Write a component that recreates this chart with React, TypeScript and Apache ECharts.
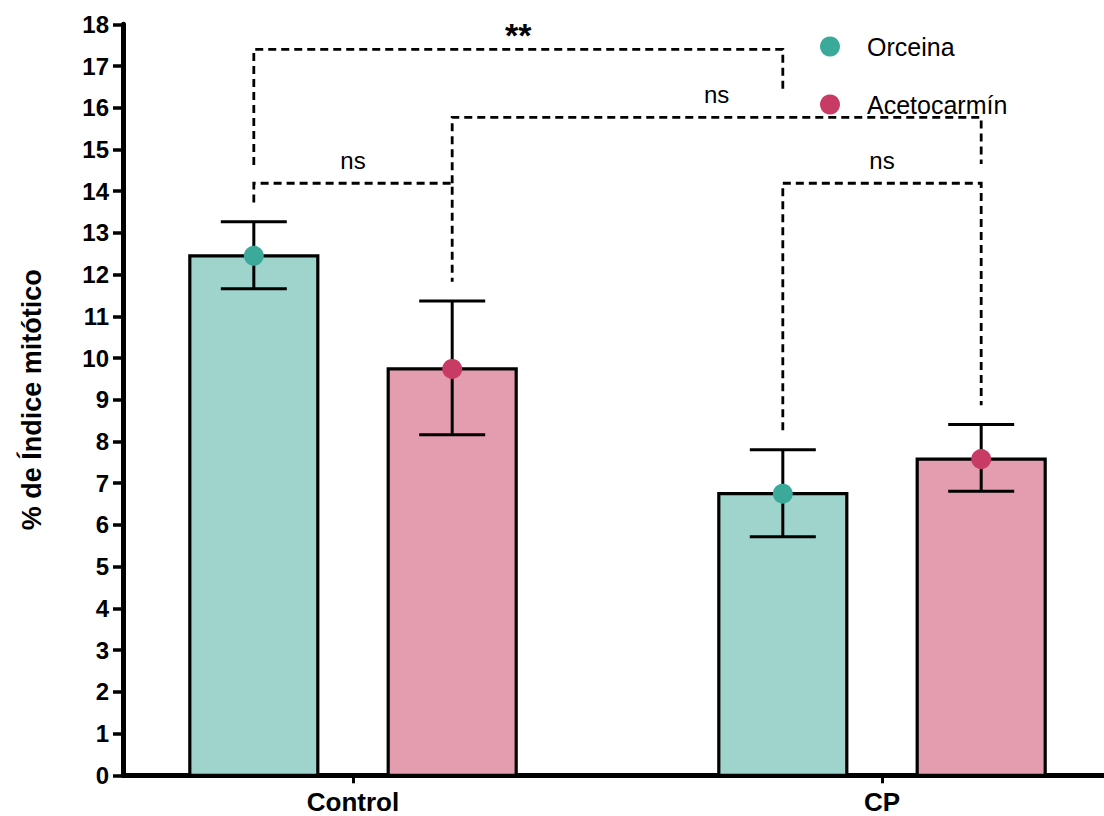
import React, { useEffect, useRef } from "react";
import * as echarts from "echarts";

// ---- data ----
const categories = ["Control", "CP"];
const groupPos = [1, 2];
const seriesNames = ["Orceina", "Acetocarmín"];
const orceinaMean = [12.45, 6.75];
const orceinaLow = [11.66, 5.72];
const orceinaHigh = [13.27, 7.8];
const acetoMean = [9.74, 7.58];
const acetoLow = [8.16, 6.81];
const acetoHigh = [11.37, 8.41];

// significance brackets (bar index: 0 Control-Orc, 1 Control-Ace, 2 CP-Orc, 3 CP-Ace)
const bracketLabels = ["**", "ns", "ns", "ns"];
const bracketLeftBar = [0, 0, 1, 2];
const bracketRightBar = [2, 1, 3, 3];
const bracketTop = [17.4, 14.19, 15.77, 14.19];
const bracketLeftEnd = [14.63, 13.73, 14.19, 8.27];
const bracketRightEnd = [16.43, 11.83, 14.65, 8.87];

// ---- styling ----
const FONT = "'Liberation Sans', Arial, Helvetica, sans-serif";
const BAR_FILL = ["#9ED4CB", "#E49CAF"];
const DOT = ["#3BAA9A", "#C83B64"];
const BAR_OFFSET = 0.1875;

export default function App() {
  const ref = useRef<HTMLDivElement>(null);

  useEffect(() => {
    document.body.style.margin = "0";
    if (!ref.current) return;
    const chart = echarts.init(ref.current, undefined, { renderer: "svg" });

    const barX = [
      groupPos[0] - BAR_OFFSET,
      groupPos[0] + BAR_OFFSET,
      groupPos[1] - BAR_OFFSET,
      groupPos[1] + BAR_OFFSET,
    ];

    const orcData = groupPos.map((g, i) => [g - BAR_OFFSET, orceinaMean[i], orceinaLow[i], orceinaHigh[i]]);
    const aceData = groupPos.map((g, i) => [g + BAR_OFFSET, acetoMean[i], acetoLow[i], acetoHigh[i]]);

    const renderBar = (color: string) => (params: any, api: any) => {
      const x = api.value(0);
      const m = api.value(1);
      const lo = api.value(2);
      const hi = api.value(3);
      const [cx, cy] = api.coord([x, m]);
      const y0 = api.coord([x, 0])[1];
      const yLo = api.coord([x, lo])[1];
      const yHi = api.coord([x, hi])[1];
      const ls = { stroke: "#000", lineWidth: 3 };
      return {
        type: "group",
        children: [
          { type: "rect", shape: { x: cx - 64, y: cy, width: 128, height: y0 - cy }, style: { fill: color, stroke: "#000", lineWidth: 3.2 } },
          { type: "line", shape: { x1: cx, y1: yHi, x2: cx, y2: yLo }, style: ls },
          { type: "line", shape: { x1: cx - 33, y1: yHi, x2: cx + 33, y2: yHi }, style: ls },
          { type: "line", shape: { x1: cx - 33, y1: yLo, x2: cx + 33, y2: yLo }, style: ls },
        ],
      };
    };

    const bracketData = bracketLabels.map((_, i) => [
      barX[bracketLeftBar[i]],
      barX[bracketRightBar[i]],
      bracketTop[i],
      bracketLeftEnd[i],
      bracketRightEnd[i],
    ]);

    const renderBracket = (params: any, api: any) => {
      const xl = api.value(0);
      const xr = api.value(1);
      const top = api.value(2);
      const le = api.value(3);
      const re = api.value(4);
      const p1 = api.coord([xl, le]);
      const p2 = api.coord([xl, top]);
      const p3 = api.coord([xr, top]);
      const p4 = api.coord([xr, re]);
      const label = bracketLabels[params.dataIndex];
      const isStar = label === "**";
      return {
        type: "group",
        children: [
          {
            type: "polyline",
            shape: { points: [p1, p2, p3, p4] },
            style: { stroke: "#000", lineWidth: 2.8, lineDash: [8, 5], fill: "none" },
          },
          {
            type: "text",
            x: (p2[0] + p3[0]) / 2,
            y: p2[1] + (isStar ? -14 : -23),
            style: {
              text: label,
              fill: "#000",
              fontSize: isStar ? 34 : 24,
              fontWeight: isStar ? "bold" : "normal",
              fontFamily: FONT,
              align: "center",
              verticalAlign: "middle",
            },
          },
        ],
      };
    };

    chart.setOption({
      animation: false,
      backgroundColor: "#fff",
      grid: { left: 123, right: 0, top: 24.3, bottom: 40.7, containLabel: false },
      legend: {
        data: seriesNames,
        orient: "vertical",
        left: 815,
        top: 29,
        icon: "circle",
        itemWidth: 64,
        itemHeight: 20,
        itemGap: 33,
        textStyle: { fontSize: 25, color: "#000", fontFamily: FONT },
      },
      xAxis: {
        type: "value",
        min: 1 - 230 / 529,
        max: 2 + 222 / 529,
        splitLine: { show: false },
        axisLine: { show: true, onZero: false, lineStyle: { color: "#000", width: 5 } },
        axisTick: { show: true, customValues: groupPos, length: 8, lineStyle: { color: "#000", width: 3 } },
        axisLabel: {
          show: true,
          customValues: groupPos,
          formatter: (v: number) => categories[groupPos.indexOf(Math.round(v))] ?? "",
          fontSize: 26,
          fontWeight: "bold",
          color: "#000",
          fontFamily: FONT,
          margin: 14,
        },
      },
      yAxis: {
        type: "value",
        min: 0,
        max: 18,
        interval: 1,
        name: "% de Índice mitótico",
        nameLocation: "middle",
        nameRotate: 90,
        nameGap: 78,
        nameTextStyle: { fontSize: 27, fontWeight: "bold", color: "#000", fontFamily: FONT },
        splitLine: { show: false },
        axisLine: { show: true, lineStyle: { color: "#000", width: 5 } },
        axisTick: { show: true, length: 10, lineStyle: { color: "#000", width: 3.5 } },
        axisLabel: { fontSize: 24, fontWeight: "bold", color: "#000", fontFamily: FONT, margin: 14 },
      },
      series: [
        {
          name: "Orceina barras",
          type: "custom",
          renderItem: renderBar(BAR_FILL[0]),
          data: orcData,
          encode: { x: 0, y: [1, 2, 3] },
          z: 2,
        },
        {
          name: "Acetocarmín barras",
          type: "custom",
          renderItem: renderBar(BAR_FILL[1]),
          data: aceData,
          encode: { x: 0, y: [1, 2, 3] },
          z: 2,
        },
        {
          name: "brackets",
          type: "custom",
          renderItem: renderBracket,
          data: bracketData,
          encode: { x: [0, 1], y: [2, 3, 4] },
          z: 2,
        },
        {
          name: seriesNames[0],
          type: "scatter",
          data: orcData.map((d) => [d[0], d[1]]),
          symbol: "circle",
          symbolSize: 20,
          itemStyle: { color: DOT[0], opacity: 1 },
          z: 5,
        },
        {
          name: seriesNames[1],
          type: "scatter",
          data: aceData.map((d) => [d[0], d[1]]),
          symbol: "circle",
          symbolSize: 20,
          itemStyle: { color: DOT[1], opacity: 1 },
          z: 5,
        },
      ],
    });

    return () => chart.dispose();
  }, []);

  return <div ref={ref} style={{ position: "absolute", left: 0, top: 0, width: 1104, height: 816 }} />;
}
